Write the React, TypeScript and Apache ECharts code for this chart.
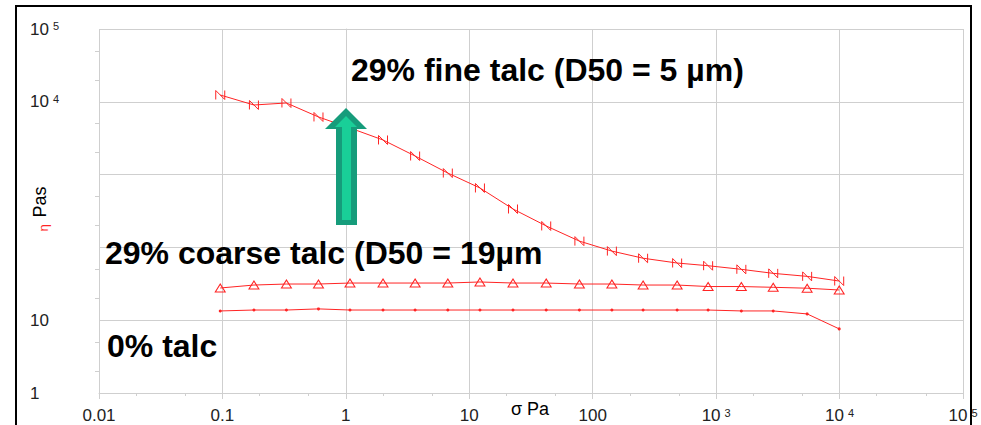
import { useEffect, useRef } from 'react';
import * as echarts from 'echarts';

// shear stress σ (Pa), shared by all three curves
const stress = [0.096, 0.18, 0.33, 0.6, 1.08, 2.0, 3.64, 6.7, 12.2, 22.6, 42, 78, 143, 256, 483, 861, 1600, 2900, 5460, 9930];
// viscosity η (Pa·s)
const fineTalc = [12400, 9040, 9630, 6190, 4370, 2990, 1800, 1050, 655, 337, 197, 122, 89, 71, 61, 56, 50, 44, 40, 34.5];
const coarseTalc = [27.7, 30.4, 31.4, 31.4, 32.4, 32.4, 32.4, 32.4, 33.5, 32.4, 32.4, 31.4, 31.4, 30.4, 30.4, 29.0, 29.0, 28.3, 27.5, 26.0];
const noTalc = [13.4, 13.8, 13.8, 14.3, 13.8, 13.8, 13.8, 13.8, 13.8, 13.8, 13.8, 13.8, 13.8, 13.8, 13.8, 13.8, 13.4, 13.4, 12.2, 7.6];

const xTickLabels = ['0.01', '0.1', '1', '10', '100', '10^3', '10^4', '10^5'];
const yTickLabels = ['1', '10', '', '', '10^4', '10^5'];
const xMinorTicks = [0.02, 0.05, 0.2, 0.5, 2, 5, 20, 50, 200, 500, 2000, 5000, 20000, 50000];
const yMinorTicks = [2, 5, 20, 50, 200, 500, 2000, 5000, 20000, 50000];

const xAxisName = 'σ Pa';
const yAxisSymbol = 'η';
const yAxisUnit = 'Pas';
const labelFine = '29% fine talc (D50 = 5 µm)';
const labelCoarse = '29% coarse talc (D50 = 19µm';
const labelNone = '0% talc';

const FONT = '"Liberation Sans", Arial, sans-serif';
const GRID = '#cfcfcf';
const RED = '#ff2424';

const makeFormatter = (labels: string[], minExp: number) => (v: number) => {
  const i = Math.round(Math.log10(v)) - minExp;
  const s = labels[i] ?? '';
  const [b, e] = s.split('^');
  return e ? `${b}{sup|${e}}` : b;
};

const supRich = {
  sup: { fontSize: 11, verticalAlign: 'top', padding: [0, 0, 0, 4], fontFamily: FONT, color: '#222' },
};

export default function App() {
  const ref = useRef<HTMLDivElement>(null);
  useEffect(() => {
    document.body.style.margin = '0';
    if (!ref.current) return;
    const chart = echarts.init(ref.current, undefined, { renderer: 'svg' });
    const pairs = (ys: number[]) => stress.map((x, i) => [x, ys[i]]);
    chart.setOption({
      animation: false,
      backgroundColor: '#fff',
      grid: { left: 99, right: 18, top: 29, bottom: 32, containLabel: false, outerBoundsMode: 'none' },
      xAxis: [
        {
          type: 'log', logBase: 10, min: 0.01, max: 100000, position: 'bottom',
          axisLine: { show: true, lineStyle: { color: GRID, width: 1 } },
          axisTick: { show: true, length: 6, lineStyle: { color: GRID } },
          splitLine: { show: true, lineStyle: { color: GRID, width: 1 } },
          axisLabel: {
            formatter: makeFormatter(xTickLabels, -2), margin: 14, fontSize: 17,
            color: '#222', fontFamily: FONT, rich: supRich,
          },
        },
        {
          type: 'value', min: -2, max: 5, position: 'bottom',
          axisLine: { show: false },
          axisTick: { show: true, length: 3, customValues: xMinorTicks.map((v) => Math.log10(v)), lineStyle: { color: GRID } },
          axisLabel: { show: false }, splitLine: { show: false },
        },
      ],
      yAxis: [
        {
          type: 'log', logBase: 10, min: 1, max: 100000, position: 'left',
          axisLine: { show: true, lineStyle: { color: GRID, width: 1 } },
          axisTick: { show: true, length: 7, lineStyle: { color: GRID } },
          splitLine: { show: true, lineStyle: { color: GRID, width: 1 } },
          axisLabel: {
            formatter: makeFormatter(yTickLabels, 0), margin: 69, align: 'left', fontSize: 17,
            color: '#222', fontFamily: FONT, rich: supRich,
          },
        },
        {
          type: 'value', min: 0, max: 5, position: 'left',
          axisLine: { show: false },
          axisTick: { show: true, length: 4, customValues: yMinorTicks.map((v) => Math.log10(v)), lineStyle: { color: GRID } },
          axisLabel: { show: false }, splitLine: { show: false },
        },
      ],
      series: [
        {
          name: 'fine', type: 'line', data: pairs(fineTalc), xAxisIndex: 0, yAxisIndex: 0,
          symbol: 'path://M0,10L0,0L10,10L10,0', symbolSize: [9, 9], showAllSymbol: true,
          lineStyle: { color: RED, width: 1 },
          itemStyle: { color: 'transparent', borderColor: RED, borderWidth: 1 },
        },
        {
          name: 'coarse', type: 'line', data: pairs(coarseTalc), xAxisIndex: 0, yAxisIndex: 0,
          symbol: 'triangle', symbolSize: [10, 8], showAllSymbol: true,
          lineStyle: { color: RED, width: 1 },
          itemStyle: { color: 'transparent', borderColor: RED, borderWidth: 1 },
        },
        {
          name: 'none', type: 'line', data: pairs(noTalc), xAxisIndex: 0, yAxisIndex: 0,
          symbol: 'circle', symbolSize: 3, showAllSymbol: true,
          lineStyle: { color: RED, width: 1 },
          itemStyle: { color: RED, borderWidth: 0 },
        },
      ],
      graphic: [
        {
          type: 'text', z: 22, x: 530, y: 409,
          style: { text: xAxisName, font: `18px ${FONT}`, fill: '#000', align: 'center', verticalAlign: 'middle' },
        },
        {
          type: 'text', z: 22, x: 40, y: 202, rotation: Math.PI / 2,
          style: { text: yAxisUnit, font: `18px ${FONT}`, fill: '#000', align: 'center', verticalAlign: 'middle' },
        },
        {
          type: 'text', z: 22, x: 43, y: 228, rotation: Math.PI / 2,
          style: { text: yAxisSymbol, font: `13px ${FONT}`, fill: RED, align: 'center', verticalAlign: 'middle' },
        },
        {
          type: 'polygon', z: 20,
          shape: { points: [[346, 108], [367, 129], [357, 129], [357, 225], [336, 225], [336, 129], [325, 129]] },
          style: { fill: '#169c7b' },
        },
        {
          type: 'polygon', z: 21,
          shape: { points: [[346, 116], [357, 127], [351, 127], [351, 220], [342, 220], [342, 127], [335, 127]] },
          style: { fill: '#19cf98' },
        },
        {
          type: 'text', z: 22, x: 351, y: 70,
          style: { text: labelFine, font: `bold 32px ${FONT}`, fill: '#000', verticalAlign: 'middle', align: 'left' },
        },
        {
          type: 'text', z: 22, x: 105, y: 253,
          style: { text: labelCoarse, font: `bold 32px ${FONT}`, fill: '#000', verticalAlign: 'middle', align: 'left' },
        },
        {
          type: 'text', z: 22, x: 107, y: 346,
          style: { text: labelNone, font: `bold 32px ${FONT}`, fill: '#000', verticalAlign: 'middle', align: 'left' },
        },
        {
          type: 'rect', z: 30,
          shape: { x: 16, y: 6, width: 955, height: 460 },
          style: { fill: 'none', stroke: '#000', lineWidth: 2 },
        },
      ],
    });
    return () => chart.dispose();
  }, []);
  return <div ref={ref} style={{ width: 981, height: 425 }} />;
}
